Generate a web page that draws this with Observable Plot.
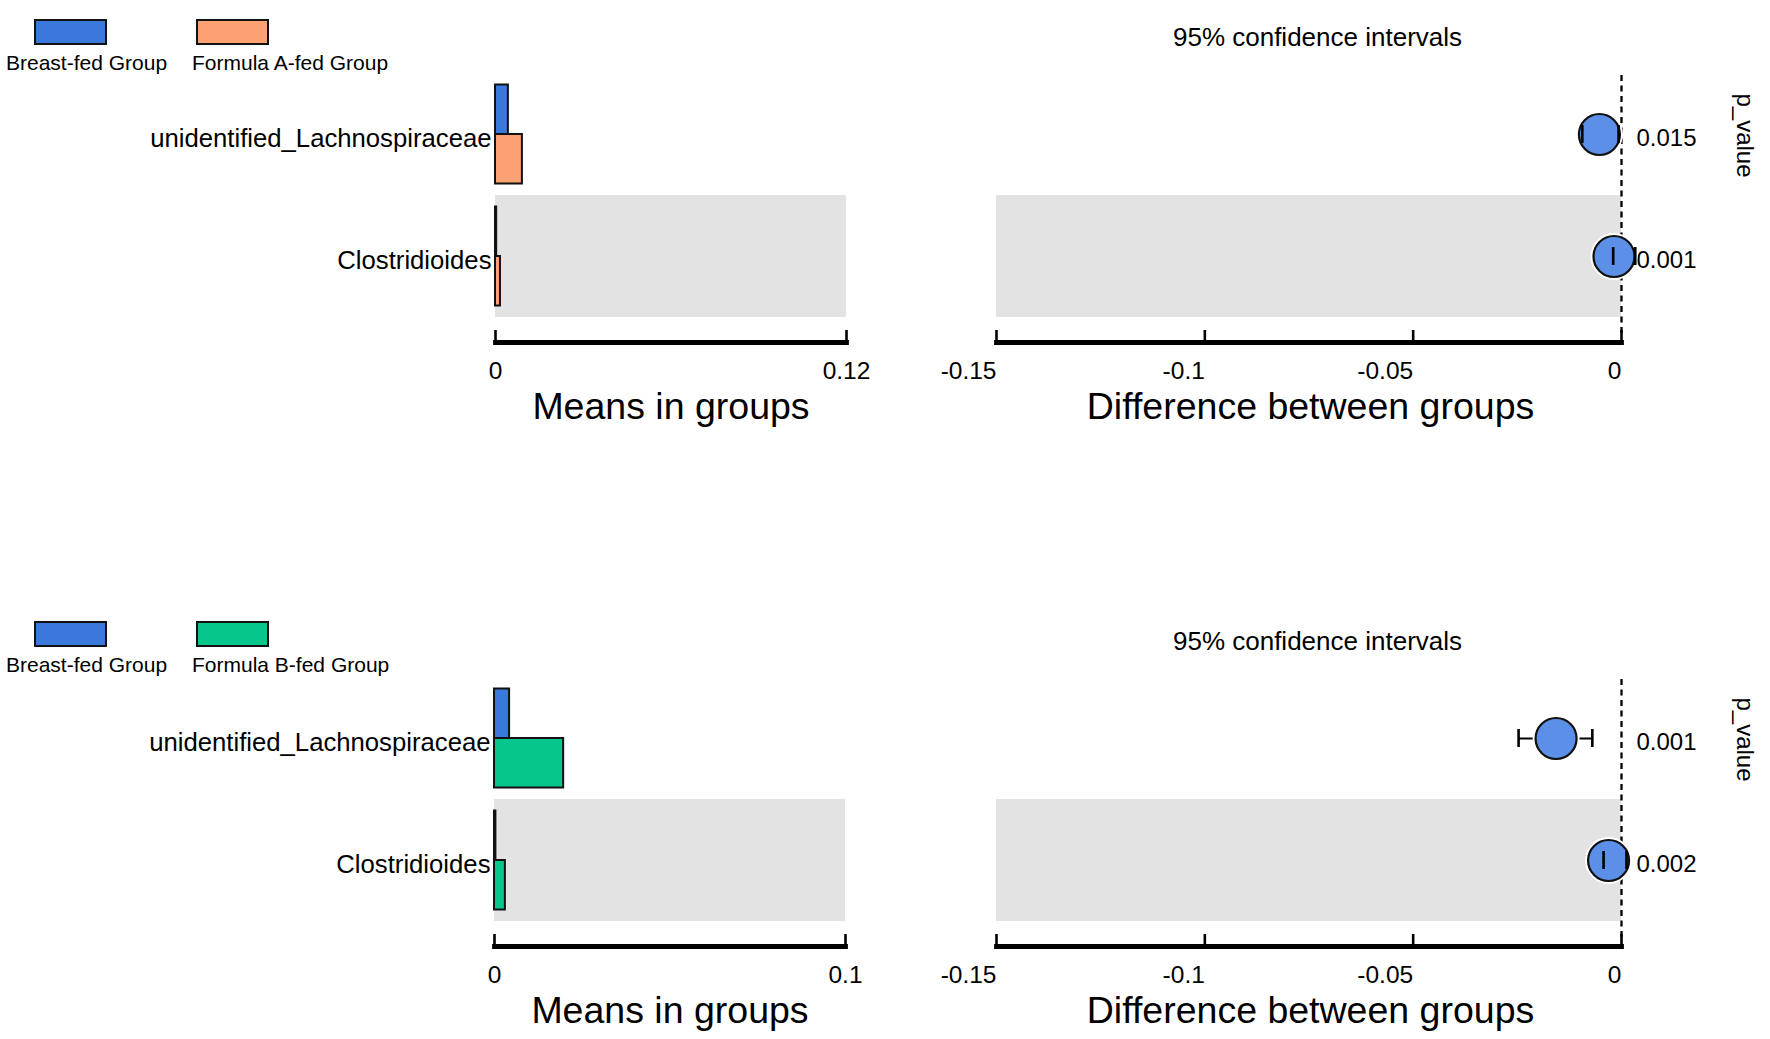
<!DOCTYPE html>
<html>
<head>
<meta charset="utf-8">
<script src="https://cdn.jsdelivr.net/npm/d3@7"></script>
<script src="https://cdn.jsdelivr.net/npm/@observablehq/plot@0.6"></script>
<style>
  html, body { margin: 0; padding: 0; background: #fff; }
  body { width: 1770px; height: 1039px; position: relative; overflow: hidden; font-family: "Liberation Sans", Arial, sans-serif; }
  .panel { position: absolute; }
  .swatch { position: absolute; box-sizing: border-box; border: 2px solid #111; width: 73px; height: 26px; }
  .ltext { position: absolute; font-size: 21px; line-height: 21px; white-space: nowrap; color: #000; }
</style>
</head>
<body>
<script>
// ---------- data ----------
const categories = ["unidentified_Lachnospiraceae", "Clostridioides"];
const shadedCategories = ["Clostridioides"];

const groupsA = ["Breast-fed Group", "Formula A-fed Group"];
const groupsB = ["Breast-fed Group", "Formula B-fed Group"];
const colorsA = ["#3b78dc", "#fca173"];
const colorsB = ["#3b78dc", "#06c68b"];
const pointColor = "#5b8fe8";

const meansBreastA = [0.0044, 0.0004];
const meansFormulaA = [0.0092, 0.0017];
const meansBreastB = [0.0043, 0.0004];
const meansFormulaB = [0.0197, 0.0031];

const diffA = [-0.0053, -0.0018];
const lowA = [-0.0094, -0.0020];
const highA = [-0.0007, 0.0033];
const pA = ["0.015", "0.001"];

const diffB = [-0.0157, -0.0031];
const lowB = [-0.0247, -0.0043];
const highB = [-0.0070, 0.0012];
const pB = ["0.001", "0.002"];

const meansTicksA = [0, 0.12];
const meansTicksB = [0, 0.1];
const diffTicks = [-0.15, -0.1, -0.05, 0];

const meansTitle = "Means in groups";
const diffTitle = "Difference between groups";
const ciTitle = "95% confidence intervals";
const pTitle = "p_value";

// ---------- helpers ----------
const FONT = "'Liberation Sans', Arial, sans-serif";
const baseStyle = {fontFamily: FONT, color: "#000", background: "transparent", overflow: "visible"};
const fmt = d => String(d);

function meansPlot(m1, m2, colors, ticks, marginLeft, marginRight) {
  const r1 = categories.map((c, i) => ({cat: c, v: m1[i]}));
  const r2 = categories.map((c, i) => ({cat: c, v: m2[i]}));
  const lo = ticks[0], hi = ticks[ticks.length - 1];
  return Plot.plot({
    width: 900, height: 440,
    marginLeft, marginRight, marginTop: 73, marginBottom: 98,
    x: {domain: [lo, hi]},
    y: {domain: categories, range: [73, 317], padding: 0},
    style: baseStyle,
    marks: [
      Plot.barX(shadedCategories, {y: d => d, x1: lo, x2: hi, fill: "#e3e3e3"}),
      Plot.barX(r1, {y: "cat", x: "v", fill: colors[0], stroke: "#111", strokeWidth: 2, insetTop: 11.5, insetBottom: 61}),
      Plot.barX(r2, {y: "cat", x: "v", fill: colors[1], stroke: "#111", strokeWidth: 2, insetTop: 61, insetBottom: 11.5}),
      Plot.axisY({tickSize: 0, tickPadding: 4, fontSize: 25.7, dy: 4, label: null}),
      Plot.frame({anchor: "bottom", strokeWidth: 4.8, stroke: "#000"}),
      Plot.ruleX(ticks, {insetTop: 257, strokeWidth: 2.6}),
      Plot.axisX({ticks, tickSize: 0, tickPadding: 19, fontSize: 24.5, tickFormat: fmt, label: null}),
      Plot.text([meansTitle], {frameAnchor: "bottom", lineAnchor: "middle", dy: 64, fontSize: 37.5})
    ]
  });
}

function diffPlot(v, lo, hi, p) {
  const rows = categories.map((c, i) => ({cat: c, v: v[i], lo: lo[i], hi: hi[i], p: p[i]}));
  const d0 = diffTicks[0], d1 = diffTicks[diffTicks.length - 1];
  return Plot.plot({
    width: 870, height: 440,
    marginLeft: 96, marginRight: 149, marginTop: 73, marginBottom: 98,
    x: {domain: [d0, d1]},
    y: {domain: categories, range: [73, 317], padding: 0, axis: null},
    style: baseStyle,
    marks: [
      Plot.barX(shadedCategories, {y: d => d, x1: d0, x2: d1, fill: "#e3e3e3"}),
      Plot.ruleX([0], {strokeDasharray: "6,4.5", strokeWidth: 2.3, insetTop: 2, insetBottom: 9}),
      Plot.text(rows, {y: "cat", text: "p", frameAnchor: "right", lineAnchor: "middle", dx: 15, dy: 4, textAnchor: "start", fontSize: 24}),
      Plot.text([pTitle], {frameAnchor: "top-right", textAnchor: "middle", lineAnchor: "middle", dx: 123, dy: 62, rotate: 90, fontSize: 24}),
      Plot.text([ciTitle], {frameAnchor: "top", lineAnchor: "middle", dx: 8.5, dy: -36, fontSize: 26}),
      Plot.ruleY(rows, {y: "cat", x1: "lo", x2: "hi", strokeWidth: 2}),
      Plot.dot(rows, {x: "v", y: "cat", r: 20.5, fill: pointColor, stroke: "#fff", strokeWidth: 6}),
      Plot.dot(rows, {x: "v", y: "cat", r: 20.5, fill: pointColor, stroke: "#111", strokeWidth: 2.2}),
      Plot.tickX(rows, {x: "lo", y: "cat", insetTop: 52, insetBottom: 52, strokeWidth: 2.6}),
      Plot.tickX(rows, {x: "hi", y: "cat", insetTop: 52, insetBottom: 52, strokeWidth: 2.6}),
      Plot.frame({anchor: "bottom", strokeWidth: 4.8, stroke: "#000"}),
      Plot.ruleX(diffTicks, {insetTop: 257, strokeWidth: 2.6}),
      Plot.axisX({ticks: diffTicks, tickSize: 0, tickPadding: 19, fontSize: 24.5, textAnchor: "end", tickFormat: fmt, label: null}),
      Plot.text([diffTitle], {frameAnchor: "bottom", lineAnchor: "middle", dx: 1.5, dy: 64, fontSize: 37.5})
    ]
  });
}

function place(node, left, top) {
  const div = document.createElement("div");
  div.className = "panel";
  div.style.left = left + "px";
  div.style.top = top + "px";
  div.appendChild(node);
  document.body.appendChild(div);
}

function legend(groups, colors, top) {
  const swLeft = [34, 196];
  const txLeft = [6, 192];
  groups.forEach((g, i) => {
    const sw = document.createElement("div");
    sw.className = "swatch";
    sw.style.left = swLeft[i] + "px";
    sw.style.top = (top + 19) + "px";
    sw.style.background = colors[i];
    document.body.appendChild(sw);
    const t = document.createElement("div");
    t.className = "ltext";
    t.style.left = txLeft[i] + "px";
    t.style.top = (top + 52) + "px";
    t.textContent = g;
    document.body.appendChild(t);
  });
}

// ---------- top comparison ----------
legend(groupsA, colorsA, 0);
place(meansPlot(meansBreastA, meansFormulaA, colorsA, meansTicksA, 495, 54), 0, 0);
place(diffPlot(diffA, lowA, highA, pA), 900, 0);

// ---------- bottom comparison ----------
legend(groupsB, colorsB, 602);
place(meansPlot(meansBreastB, meansFormulaB, colorsB, meansTicksB, 494, 55), 0, 604);
place(diffPlot(diffB, lowB, highB, pB), 900, 604);
</script>
</body>
</html>
